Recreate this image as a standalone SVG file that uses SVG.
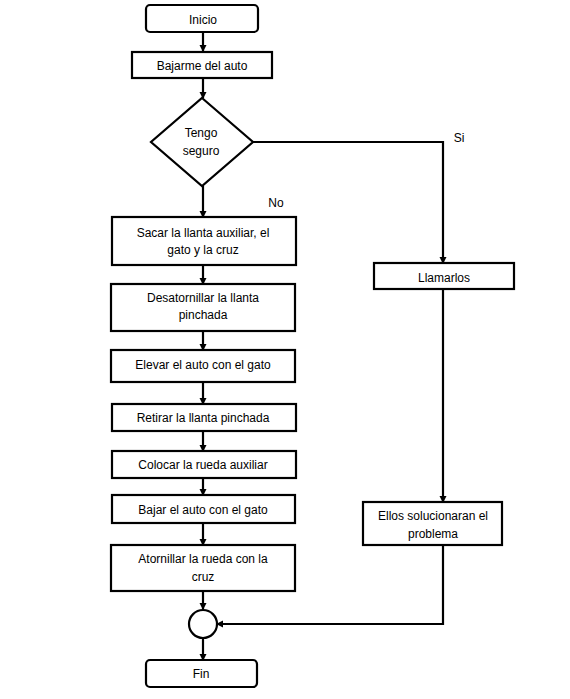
<svg xmlns="http://www.w3.org/2000/svg" width="570" height="699" viewBox="0 0 570 699">
<style>
.b{fill:#fff;stroke:#000;stroke-width:2.2}
.t{font-family:"Liberation Sans",Arial,sans-serif;font-size:12px;fill:#000;text-anchor:middle}
.c{fill:none;stroke:#000;stroke-width:2.2}
</style>
<defs>
<marker id="ah" markerWidth="8" markerHeight="8" refX="6" refY="4" orient="auto" markerUnits="userSpaceOnUse">
<path d="M0,0.5 L7,4 L0,7.5 Z" fill="#000"/>
</marker>
</defs>
<rect width="570" height="699" fill="#fff"/>
<g id="connectors">
<line class="c" x1="203" y1="32" x2="203" y2="51" marker-end="url(#ah)"/>
<line class="c" x1="203" y1="78" x2="203" y2="98" marker-end="url(#ah)"/>
<line class="c" x1="203" y1="186" x2="203" y2="217" marker-end="url(#ah)"/>
<polyline class="c" points="253,142 443,142 443,263" marker-end="url(#ah)"/>
<line class="c" x1="203" y1="265" x2="203" y2="284" marker-end="url(#ah)"/>
<line class="c" x1="203" y1="331" x2="203" y2="350" marker-end="url(#ah)"/>
<line class="c" x1="203" y1="382" x2="203" y2="404" marker-end="url(#ah)"/>
<line class="c" x1="203" y1="431" x2="203" y2="451" marker-end="url(#ah)"/>
<line class="c" x1="203" y1="478" x2="203" y2="495" marker-end="url(#ah)"/>
<line class="c" x1="203" y1="523" x2="203" y2="545" marker-end="url(#ah)"/>
<line class="c" x1="203" y1="591" x2="203" y2="609" marker-end="url(#ah)"/>
<line class="c" x1="203" y1="638" x2="203" y2="660" marker-end="url(#ah)"/>
<line class="c" x1="443" y1="289" x2="443" y2="502" marker-end="url(#ah)"/>
<polyline class="c" points="443,545 443,624 217,624" marker-end="url(#ah)"/>
<text class="t" x="459" y="142">Si</text>
<text class="t" x="276" y="207">No</text>
</g>
<g id="inicio">
<rect class="b" x="146" y="5" width="112" height="27" rx="4"/>
<text class="t" x="203" y="24">Inicio</text>
</g>
<g id="bajarme">
<rect class="b" x="132" y="52" width="140" height="26"/>
<text class="t" x="202" y="70">Bajarme del auto</text>
</g>
<g id="decision">
<polygon class="b" points="202,98 253,142 202,186 151,142"/>
<text class="t" x="201" y="137">Tengo</text>
<text class="t" x="201" y="155">seguro</text>
</g>
<g id="sacar">
<rect class="b" x="112" y="217" width="184" height="48"/>
<text class="t" x="203" y="237">Sacar la llanta auxiliar, el</text>
<text class="t" x="203" y="254">gato y la cruz</text>
</g>
<g id="desatornillar">
<rect class="b" x="111" y="284" width="184" height="47"/>
<text class="t" x="203" y="302">Desatornillar la llanta</text>
<text class="t" x="203" y="319">pinchada</text>
</g>
<g id="elevar">
<rect class="b" x="111" y="350" width="184" height="32"/>
<text class="t" x="203" y="369">Elevar el auto con el gato</text>
</g>
<g id="retirar">
<rect class="b" x="112" y="404" width="184" height="27"/>
<text class="t" x="203" y="422">Retirar la llanta pinchada</text>
</g>
<g id="colocar">
<rect class="b" x="112" y="451" width="184" height="27"/>
<text class="t" x="203" y="469">Colocar la rueda auxiliar</text>
</g>
<g id="bajar">
<rect class="b" x="112" y="495" width="183" height="28"/>
<text class="t" x="203" y="514">Bajar el auto con el gato</text>
</g>
<g id="atornillar">
<rect class="b" x="111" y="545" width="184" height="46"/>
<text class="t" x="203" y="563">Atornillar la rueda con la</text>
<text class="t" x="203" y="581">cruz</text>
</g>
<g id="conector">
<circle class="b" cx="203" cy="624" r="14"/>
</g>
<g id="fin">
<rect class="b" x="146" y="660" width="111" height="27" rx="4"/>
<text class="t" x="201" y="678">Fin</text>
</g>
<g id="llamarlos">
<rect class="b" x="374" y="263" width="140" height="26"/>
<text class="t" x="444" y="282">Llamarlos</text>
</g>
<g id="ellos">
<rect class="b" x="363" y="502" width="139" height="43"/>
<text class="t" x="433" y="520">Ellos solucionaran el</text>
<text class="t" x="433" y="538">problema</text>
</g>
</svg>
